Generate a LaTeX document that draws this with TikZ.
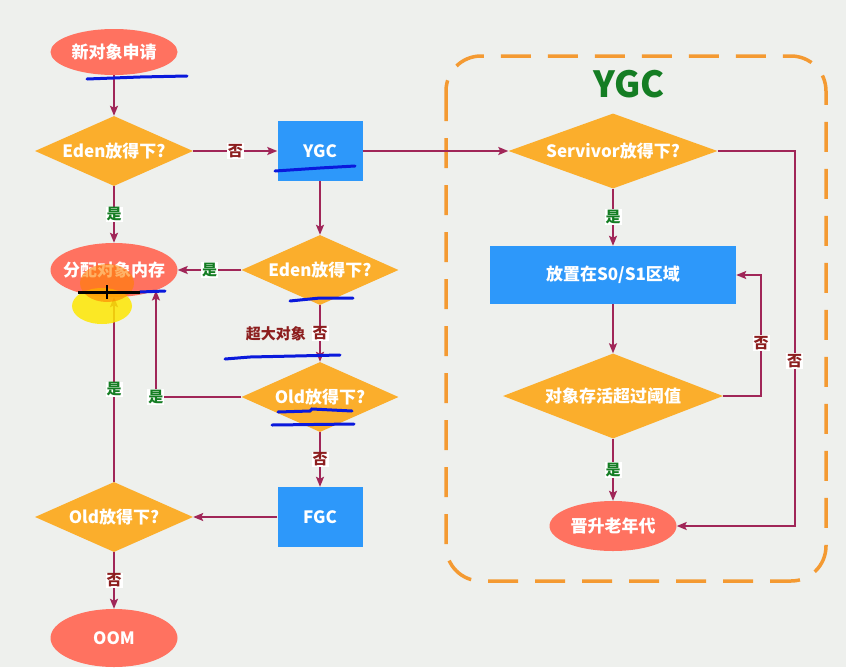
\documentclass[tikz,border=0pt]{standalone}
\usepackage{fontspec}
\setmainfont{Noto Sans CJK SC}
\usetikzlibrary{shapes.geometric,arrows.meta}
\definecolor{bgc}{RGB}{238,240,237}
\definecolor{ovalc}{RGB}{255,114,96}
\definecolor{diac}{RGB}{251,174,44}
\definecolor{boxc}{RGB}{45,152,250}
\definecolor{linkc}{RGB}{160,38,88}
\definecolor{framec}{RGB}{244,154,50}
\definecolor{yesc}{RGB}{20,125,35}
\definecolor{noc}{RGB}{140,30,30}
\definecolor{penc}{RGB}{10,25,220}
\tikzset{
  txt/.style={text=white, font=\bfseries\fontsize{17}{17}\selectfont, inner sep=0pt},
  oval/.style={txt, ellipse, fill=ovalc, inner xsep=-8pt, minimum width=127},
  dia/.style={txt, diamond, fill=diac, aspect=2.3},
  blk/.style={txt, rectangle, fill=boxc},
  arr/.style={linkc, line width=1.8pt, -{Stealth[length=10pt,width=8pt,inset=2pt]}},
  yes/.style={fill=white, text=yesc, font=\bfseries\fontsize{15}{15}\selectfont, inner sep=1pt},
  no/.style={fill=white, text=noc, font=\bfseries\fontsize{15}{15}\selectfont, inner sep=1pt},
  pen/.style={penc, line width=3pt, line cap=round}
}
\begin{document}
\begin{tikzpicture}[x=1pt,y=-1pt]
    \useasboundingbox (0,0) rectangle (846,667);
    \fill[bgc] (0,0) rectangle (846,667);
    \draw[framec, line width=3.5pt, dash pattern=on 30pt off 17pt, rounded corners=35pt]
        (446,56) rectangle (826,581);
    \node[text=yesc, font=\bfseries\fontsize{36}{36}\selectfont] (title) at (629,84) {YGC};

    \node[oval, minimum height=46] (new) at (114,52) {新对象申请};
    \node[dia, minimum width=158, minimum height=70] (edenA) at (114,151) {Eden放得下?};
    \node[oval, minimum height=54] (alloc) at (114,270) {分配对象内存};
    \node[dia, minimum width=158, minimum height=70] (oldB) at (114,517) {Old放得下?};
    \node[oval, minimum height=58] (oom) at (114,638) {OOM};
    \node[blk, minimum width=85, minimum height=60] (ygc) at (320,151) {YGC};
    \node[dia, minimum width=157, minimum height=70] (edenB) at (320,270) {Eden放得下?};
    \node[dia, minimum width=157, minimum height=70] (oldA) at (320,397) {Old放得下?};
    \node[blk, minimum width=85, minimum height=60] (fgc) at (320,517) {FGC};
    \node[dia, minimum width=209, minimum height=75] (surv) at (613,151) {Servivor放得下?};
    \node[blk, minimum width=246, minimum height=58] (s01) at (613,275) {放置在S0/S1区域};
    \node[dia, minimum width=220, minimum height=85] (thr) at (613,396) {对象存活超过阈值};
    \node[oval, minimum height=50] (promo) at (613,526) {晋升老年代};

    \draw[arr] (new) -- (edenA);
    \draw[arr] (edenA) -- node[no]{否} (ygc);
    \draw[arr] (edenA) -- node[yes]{是} (alloc);
    \draw[arr] (ygc) -- (edenB);
    \draw[arr] (edenB) -- node[yes]{是} (alloc);
    \draw[arr] (edenB) -- node[no]{否}
        node[pos=0.5, anchor=east, xshift=-10pt, text=noc, font=\bfseries\fontsize{15}{15}\selectfont] (big) {超大对象} (oldA);
    \draw[arr] (oldA.west) -| node[yes]{是} (alloc.-26);
    \draw[arr] (oldA) -- node[no]{否} (fgc);
    \draw[arr] (fgc) -- (oldB);
    \draw[arr] (oldB) -- node[yes]{是} (alloc);
    \draw[arr] (oldB) -- node[no]{否} (oom);
    \draw[arr] (ygc) -- (surv);
    \draw[arr] (surv) -- node[yes]{是} (s01);
    \draw[arr] (s01) -- (thr);
    \draw[arr] (thr) -- node[yes]{是} (promo);
    \draw[arr] (thr.east) -- ++(38,0) |- node[no, pos=0.22]{否} (s01.east);
    \draw[arr] (surv.east) -- ++(77,0) |- node[no, pos=0.28]{否} (promo.east);

    \fill[yellow!90!orange, opacity=0.85] (102,306) ellipse (30 and 18);
    \fill[orange, opacity=0.6] (107,283) ellipse (27 and 19);
    \draw[pen] (87,79) -- (140,77) -- (187,76);
    \draw[pen] (275,171) -- (320,168) -- (355,166);
    \draw[pen] (290,301) -- (320,298) -- (353,298);
    \draw[pen] (225,359) -- (250,357) -- (340,355);
    \draw[pen] (278,412) -- (310,411) -- (312,409) -- (352,411);
    \draw[pen] (272,425) -- (354,424);
    \draw[pen] (140,292) -- (165,291);
    \draw[black, line width=3pt] (78,292) -- (140,292);
    \draw[black, line width=1.5pt] (107,285) -- (107,299);
\end{tikzpicture}
\end{document}
